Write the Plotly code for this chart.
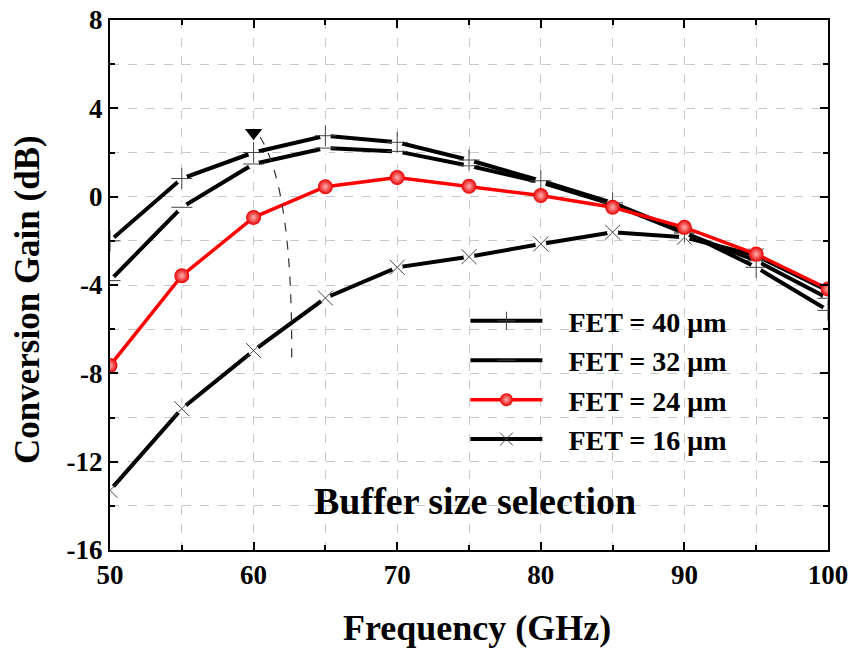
import plotly.graph_objects as go

freq = [50, 55, 60, 65, 70, 75, 80, 85, 90, 95, 100]
fet40 = [-2.0, 0.82, 2.0, 2.76, 2.46, 1.66, 0.72, -0.28, -1.6, -3.2, -5.15]
fet32 = [-3.8, -0.48, 1.48, 2.2, 2.05, 1.4, 0.65, -0.35, -1.65, -2.9, -4.6]
fet24 = [-7.65, -3.58, -0.94, 0.45, 0.87, 0.47, 0.05, -0.48, -1.39, -2.6, -4.18]
fet16 = [-13.3, -9.6, -6.97, -4.59, -3.2, -2.72, -2.14, -1.61, -1.84, -2.67, -4.26]

x_ticks = [50, 60, 70, 80, 90, 100]
y_ticks = [-16, -12, -8, -4, 0, 4, 8]
y_tick_labels = ["-16", "-12", "-8", "-4", "0", "4", "8"]

FONT = "Liberation Serif"
fig = go.Figure()

black_series = [
    (fet16, "x-thin"),
    (fet32, "line-ew"),
    (fet40, "cross-thin"),
]

def add_black(ys, sym):
    fig.add_trace(go.Scatter(x=freq, y=ys, mode="lines", line=dict(color="black", width=4),
                             showlegend=False, hoverinfo="skip"))
    fig.add_trace(go.Scatter(x=freq, y=ys, mode="markers",
                             marker=dict(symbol="circle", size=11, color="white"),
                             showlegend=False, hoverinfo="skip"))
    fig.add_trace(go.Scatter(x=freq, y=ys, mode="markers",
                             marker=dict(symbol=sym, size=15, color="#444444",
                                         line=dict(color="#444444", width=1)),
                             showlegend=False))

for ys, sym in black_series:
    add_black(ys, sym)

fig.add_trace(go.Scatter(x=freq, y=fet24, mode="lines+markers", showlegend=False,
                         line=dict(color="red", width=3.5),
                         marker=dict(symbol="circle", size=15, color="#e80000",
                                     gradient=dict(type="radial", color="#ffb0b0"),
                                     line=dict(width=0))))

# legend entries (order as in reference)
NB = "\u00a0\u00a0\u00a0"
legend_items = [
    (NB + "<b>FET = 40 \u03bcm</b>", "black", "cross-thin", 4),
    (NB + "<b>FET = 32 \u03bcm</b>", "black", "line-ew", 4),
    (NB + "<b>FET = 24 \u03bcm</b>", "red", "circle", 3.5),
    (NB + "<b>FET = 16 \u03bcm</b>", "black", "x-thin", 4),
]
for i, (name, col, sym, w) in enumerate(legend_items):
    if sym == "circle":
        mk = dict(symbol="circle", size=13, color="#e80000",
                  gradient=dict(type="radial", color="#ffb0b0"), line=dict(width=0))
    else:
        mk = dict(symbol=sym, size=13, color="#444444", line=dict(color="#444444", width=1))
    fig.add_trace(go.Scatter(x=[None], y=[None], mode="lines+markers", name=name,
                             line=dict(color=col, width=w), marker=mk))

# arrow annotation: triangle + dashed curve
fig.add_trace(go.Scatter(x=[60], y=[2.9], mode="markers", showlegend=False,
                         marker=dict(symbol="triangle-down", size=15, color="black")))
fig.add_shape(type="path", xref="x", yref="y",
              path="M 60.45,2.7 Q 62.75,0.3 62.65,-7.5",
              line=dict(color="#333333", width=1.2, dash="dash"))

fig.add_annotation(x=75.4, y=-13.8, text="<b>Buffer size selection</b>", showarrow=False,
                   font=dict(family=FONT, size=38, color="black"))

# axis titles (placed as annotations to match their offset positions)
fig.add_annotation(xref="paper", yref="paper", x=-0.114, y=0.472, xanchor="center", yanchor="middle",
                   text="<b>Conversion Gain (dB)</b>", textangle=-90, showarrow=False,
                   font=dict(family=FONT, size=35, color="black"))
fig.add_annotation(xref="paper", yref="paper", x=0.511, y=-0.147, xanchor="center", yanchor="middle",
                   text="<b>Frequency (GHz)</b>", showarrow=False,
                   font=dict(family=FONT, size=36, color="black"))

axis_common = dict(
    showline=True, linecolor="black", linewidth=2, mirror="ticks",
    ticks="inside", ticklen=8, tickwidth=1.5, tickcolor="black",
    showgrid=True, gridcolor="#c8c8c8", griddash="dash", gridwidth=1,
    zeroline=False, automargin=False, ticklabeloverflow="allow",
    tickfont=dict(family=FONT, size=27, color="black", weight="bold"),
)

fig.update_xaxes(range=[50, 100], tickvals=x_ticks,
                 minor=dict(dtick=5, tick0=50, ticks="inside", ticklen=5, tickcolor="black",
                            showgrid=True, gridcolor="#c8c8c8", griddash="dash"),
                 **axis_common)
fig.update_yaxes(range=[-16, 8], tickvals=y_ticks, ticktext=y_tick_labels,
                 minor=dict(dtick=2, tick0=0, ticks="inside", ticklen=5, tickcolor="black",
                            showgrid=True, gridcolor="#c8c8c8", griddash="dash"),
                 **axis_common)

fig.update_layout(
    width=858, height=652,
    margin=dict(l=110, r=30, t=20, b=102),
    plot_bgcolor="white", paper_bgcolor="white",
    legend=dict(x=0.495, y=0.479, xanchor="left", yanchor="top",
                bgcolor="rgba(0,0,0,0)", borderwidth=0,
                font=dict(family=FONT, size=28, color="black"),
                itemwidth=72, tracegroupgap=0),
)

fig.write_html("out.html", config={"displayModeBar": False},
               post_script="document.body.style.margin='0px';")
